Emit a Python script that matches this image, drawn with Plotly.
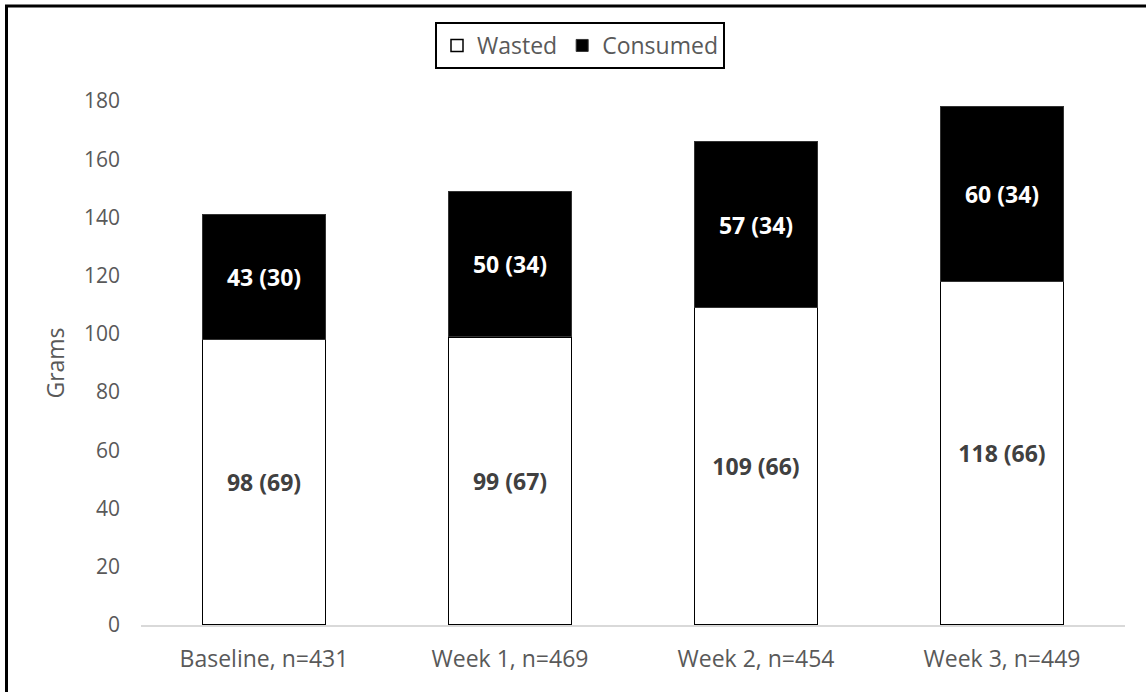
import plotly.graph_objects as go

categories = ["Baseline, n=431", "Week 1, n=469", "Week 2, n=454", "Week 3, n=449"]
wasted = [98, 99, 109, 118]
wasted_sd = [69, 67, 66, 66]
consumed = [43, 50, 57, 60]
consumed_sd = [30, 34, 34, 34]

wasted_text = [f"{v} ({s})" for v, s in zip(wasted, wasted_sd)]
consumed_text = [f"{v} ({s})" for v, s in zip(consumed, consumed_sd)]

W, H = 1146, 692
ML, MR, MT, MB = 141, 21, 101, 67
PW, PH = W - ML - MR, H - MT - MB

def px_x(p):
    return (p - ML) / PW

def px_y(p):
    return 1 - (p - MT) / PH

fig = go.Figure()
fig.add_trace(go.Bar(
    name="Wasted", x=categories, y=wasted, text=wasted_text,
    marker=dict(color="white", line=dict(color="black", width=1.5)),
    textposition="inside", insidetextanchor="middle",
    textfont=dict(family="Open Sans", size=23, color="#404040", weight="bold"),
    textangle=0,
))
fig.add_trace(go.Bar(
    name="Consumed", x=categories, y=consumed, text=consumed_text,
    marker=dict(color="black", line=dict(color="#333333", width=1)),
    textposition="inside", insidetextanchor="middle",
    textfont=dict(family="Open Sans", size=23, color="white", weight="bold"),
    textangle=0,
))

fig.update_layout(
    width=W, height=H,
    margin=dict(l=ML, r=MR, t=MT, b=MB, autoexpand=False),
    barmode="stack", bargap=0.5,
    plot_bgcolor="white", paper_bgcolor="white",
    font=dict(family="Open Sans", color="#595959", size=21),
    uniformtext=dict(mode=False),
    showlegend=True,
    legend=dict(
        orientation="h", x=px_x(580), xanchor="center",
        y=px_y(22), yanchor="top",
        bordercolor="black", borderwidth=2, bgcolor="white",
        font=dict(family="Open Sans", size=23, color="#595959"),
        traceorder="normal", itemwidth=30,
    ),
    xaxis=dict(
        showline=True, linecolor="#d9d9d9", linewidth=2,
        showgrid=False, ticks="", tickfont=dict(size=23, color="#595959"),
        ticklabelstandoff=12,
    ),
    yaxis=dict(
        range=[0, 180], dtick=20, showgrid=False, showline=False,
        zeroline=False, ticks="", tickfont=dict(size=21, color="#595959"),
        ticklabelstandoff=20,
        title=dict(text="Grams", font=dict(size=23, color="#595959"), standoff=12),
    ),
    shapes=[
        dict(type="line", xref="paper", yref="paper",
             x0=px_x(6.5), x1=px_x(6.5), y0=px_y(5), y1=px_y(700),
             line=dict(color="black", width=3)),
        dict(type="line", xref="paper", yref="paper",
             x0=px_x(5), x1=px_x(1150), y0=px_y(6), y1=px_y(6),
             line=dict(color="black", width=3)),
    ],
)

fig.write_html("out.html")
